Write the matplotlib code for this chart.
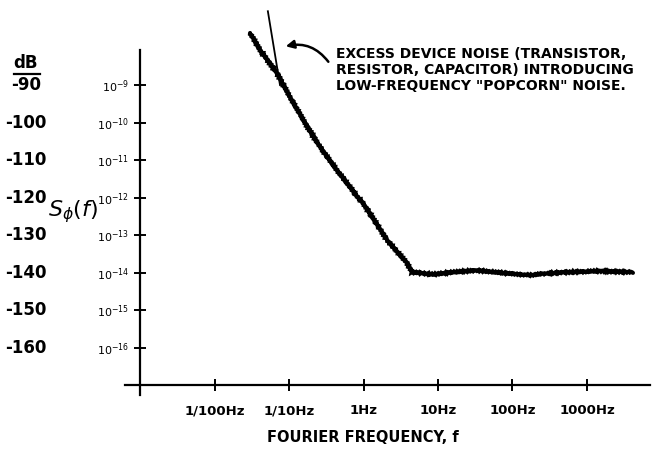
import numpy as np
import matplotlib
matplotlib.use("Agg")
import matplotlib.pyplot as plt
from matplotlib.lines import Line2D
import matplotlib.transforms as mtrans

# ---- data ----
freq_hz = [0.030, 0.041, 0.069, 0.103, 0.164, 0.261, 0.44, 0.84, 0.99, 2.07, 3.84, 4.48,
           8.6, 15.9, 33, 74, 172, 256, 537, 1493, 4140]
noise_db = [-76.1, -80.7, -86.8, -93.2, -100.1, -106.5, -112.7, -119.9, -121.5, -131.3, -137.5, -139.9,
            -140.5, -139.9, -139.4, -140.1, -140.7, -140.3, -139.9, -139.6, -139.9]

excess_freq = [0.052, 0.0757]
excess_db = [-70.3, -90.0]

db_ticks = [-90, -100, -110, -120, -130, -140, -150, -160]
pow_labels = [r"$10^{-9}$", r"$10^{-10}$", r"$10^{-11}$", r"$10^{-12}$",
              r"$10^{-13}$", r"$10^{-14}$", r"$10^{-15}$", r"$10^{-16}$"]
freq_ticks = [0.01, 0.1, 1, 10, 100, 1000]
freq_labels = ["1/100Hz", "1/10Hz", "1Hz", "10Hz", "100Hz", "1000Hz"]

annotation = "EXCESS DEVICE NOISE (TRANSISTOR,\nRESISTOR, CAPACITOR) INTRODUCING\nLOW-FREQUENCY \"POPCORN\" NOISE."

# ---- figure ----
W, H = 655, 453
fig = plt.figure(figsize=(6.55, 4.53), dpi=100)
ax = fig.add_axes([115 / W, 53 / H, 540 / W, 400 / H])
ax.set_xscale("log")
ax.set_xlim(10 ** -3.336, 10 ** 3.913)
ax.set_ylim(-174, -67.3)

for s in ["top", "right"]:
    ax.spines[s].set_visible(False)
ax.spines["left"].set_position(("data", 0.001))
ax.spines["bottom"].set_position(("data", -170))
ax.spines["left"].set_bounds(-172.7, -80.7)
ax.spines["bottom"].set_bounds(0.00063, 7000)
for s in ["left", "bottom"]:
    ax.spines[s].set_linewidth(1.6)

(curve,) = ax.plot(freq_hz, noise_db, color="black", lw=3.0, solid_capstyle="round",
                   solid_joinstyle="miter")
curve.set_sketch_params(0.7, 3, 1.5)
ax.plot(excess_freq, excess_db, color="black", lw=1.3, clip_on=False)

ax.set_yticks(db_ticks)
ax.set_yticklabels(pow_labels, fontsize=8, fontweight="bold")
ax.set_xticks(freq_ticks)
ax.set_xticklabels(freq_labels, fontsize=9.5, fontweight="bold")
ax.xaxis.set_minor_locator(matplotlib.ticker.NullLocator())
ax.tick_params(axis="y", direction="inout", length=8, width=1.4, pad=4)
ax.tick_params(axis="x", direction="inout", length=8, width=1.4, pad=10)

# dB column
trans = mtrans.blended_transform_factory(fig.transFigure, ax.transData)
for v in db_ticks:
    ax.text(26 / W, v, str(v), transform=trans, ha="center", va="center",
            fontsize=12, fontweight="bold")
fig.text(26 / W, 1 - 63 / H, "dB", ha="center", va="center", fontsize=12, fontweight="bold")
fig.add_artist(Line2D([14 / W, 40 / W], [1 - 74 / H, 1 - 74 / H], color="black", lw=1.6))

fig.text(73 / W, 1 - 212 / H, r"$S_{\phi}(f)$", ha="center", va="center", fontsize=16)
fig.text(363 / W, 1 - 437 / H, "FOURIER FREQUENCY, f", ha="center", va="center",
         fontsize=10.5, fontweight="bold")

fig.text(336 / W, 1 - 70 / H, annotation, ha="left", va="center", fontsize=10,
         fontweight="bold", linespacing=1.15)
ax.annotate("", xy=(283 / W, 1 - 47 / H), xytext=(330 / W, 1 - 64 / H),
            xycoords="figure fraction", textcoords="figure fraction",
            arrowprops=dict(arrowstyle="-|>", color="black", lw=1.8,
                            connectionstyle="arc3,rad=0.35", mutation_scale=12))

fig.savefig("out.png", dpi=100)
